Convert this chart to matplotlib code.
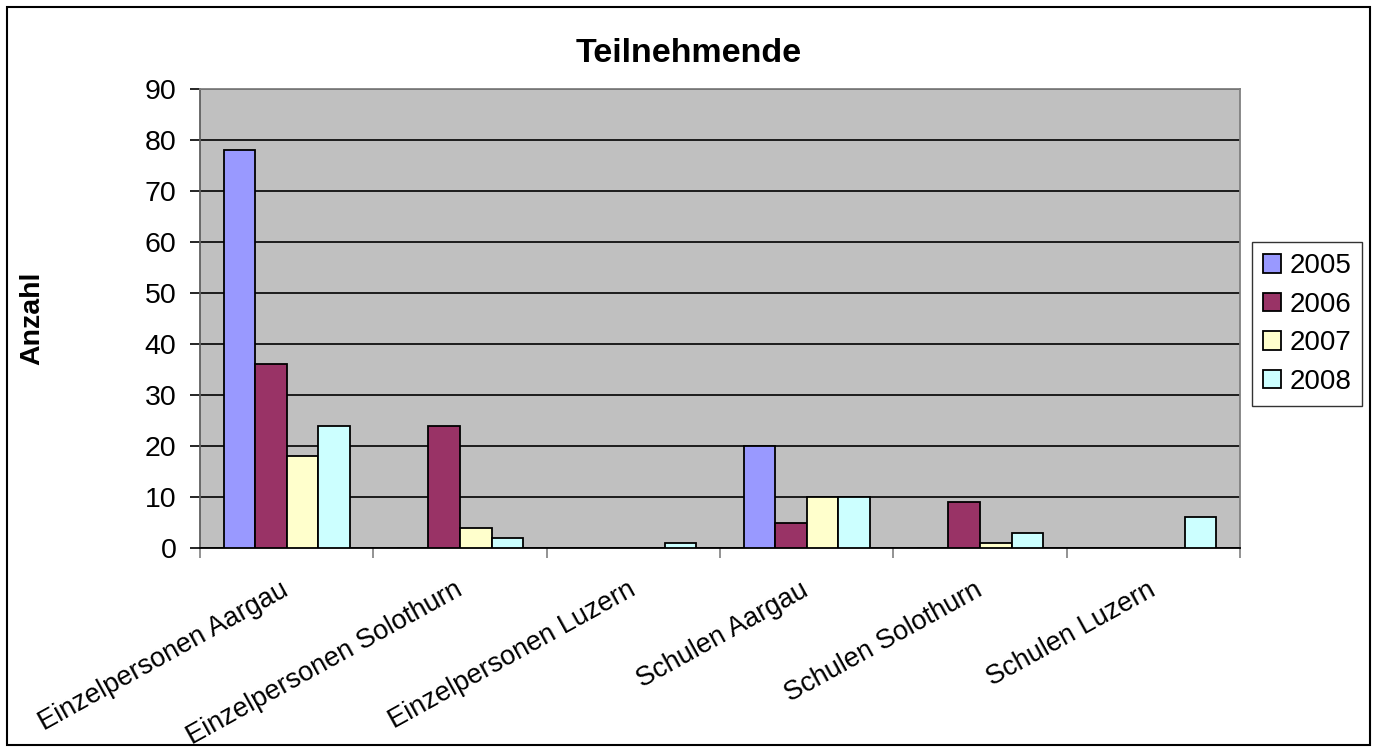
import numpy as np
import matplotlib.pyplot as plt
from matplotlib.patches import Rectangle

plt.rcParams['font.family'] = ['Liberation Sans', 'DejaVu Sans']

categories = ["Einzelpersonen Aargau", "Einzelpersonen Solothurn",
              "Einzelpersonen Luzern", "Schulen Aargau",
              "Schulen Solothurn", "Schulen Luzern"]
years = ["2005", "2006", "2007", "2008"]
v2005 = [78, 0, 0, 20, 0, 0]
v2006 = [36, 24, 0, 5, 9, 0]
v2007 = [18, 4, 0, 10, 1, 0]
v2008 = [24, 2, 1, 10, 3, 6]
colors = ["#9999FF", "#993366", "#FFFFCC", "#CCFFFF"]

fig = plt.figure(figsize=(13.77, 7.51), dpi=100)
ax = fig.add_axes([200/1377, 1 - 548/751, 1040/1377, 459/751])
ax.set_facecolor("#C0C0C0")

x = np.arange(len(categories))
w = 0.182
for i, (vals, col, yr) in enumerate(zip([v2005, v2006, v2007, v2008], colors, years)):
    ax.bar(x + (i - 1.5) * w, vals, w, color=col, edgecolor="black",
           linewidth=1.3, label=yr, zorder=3)

ax.set_xlim(-0.5, 5.5)
ax.set_ylim(0, 90)
ax.set_yticks(range(0, 91, 10))
ax.yaxis.grid(True, color="black", linewidth=1.2, zorder=1)
ax.set_axisbelow(True)

# group boundaries as major ticks, labels at centres
ax.set_xticks(np.arange(-0.5, 6, 1))
ax.set_xticklabels([])
ax.set_xticks(x, minor=True)
ax.set_xticklabels(categories, minor=True, rotation=29, ha="right",
                   va="center", rotation_mode="anchor", fontsize=19.5)
ax.tick_params(axis="x", which="minor", length=0, pad=29)
ax.tick_params(axis="x", which="major", length=7, color="#808080", width=1.2)
ax.tick_params(axis="y", length=7, width=1.2, pad=10, labelsize=20.5)

for s in ["top", "right"]:
    ax.spines[s].set_color("#808080")
ax.spines["left"].set_color("#606060")
ax.spines["bottom"].set_color("black")
for s in ax.spines.values():
    s.set_linewidth(1.3)

fig.text(0.5, 1 - 54/751, "Teilnehmende", ha="center", va="center",
         fontsize=24.5, fontweight="bold")
fig.text(32/1377, 1 - 318/751, "Anzahl", ha="center", va="center",
         rotation=90, fontsize=20.5, fontweight="bold")

leg = ax.legend(loc="center left", bbox_to_anchor=(1252/1377, 1 - 324/751),
                bbox_transform=fig.transFigure, fontsize=20, frameon=True,
                fancybox=False, edgecolor="black", handlelength=0.65,
                handleheight=0.65, handletextpad=0.3, labelspacing=0.45,
                borderpad=0.4, borderaxespad=0)
leg.get_frame().set_linewidth(1.0)

fig.patches.append(Rectangle((7/1377, 6/751), 1363/1377, 738/751,
                             transform=fig.transFigure, fill=False,
                             edgecolor="black", linewidth=1.5))

fig.savefig("out.png", dpi=100)
